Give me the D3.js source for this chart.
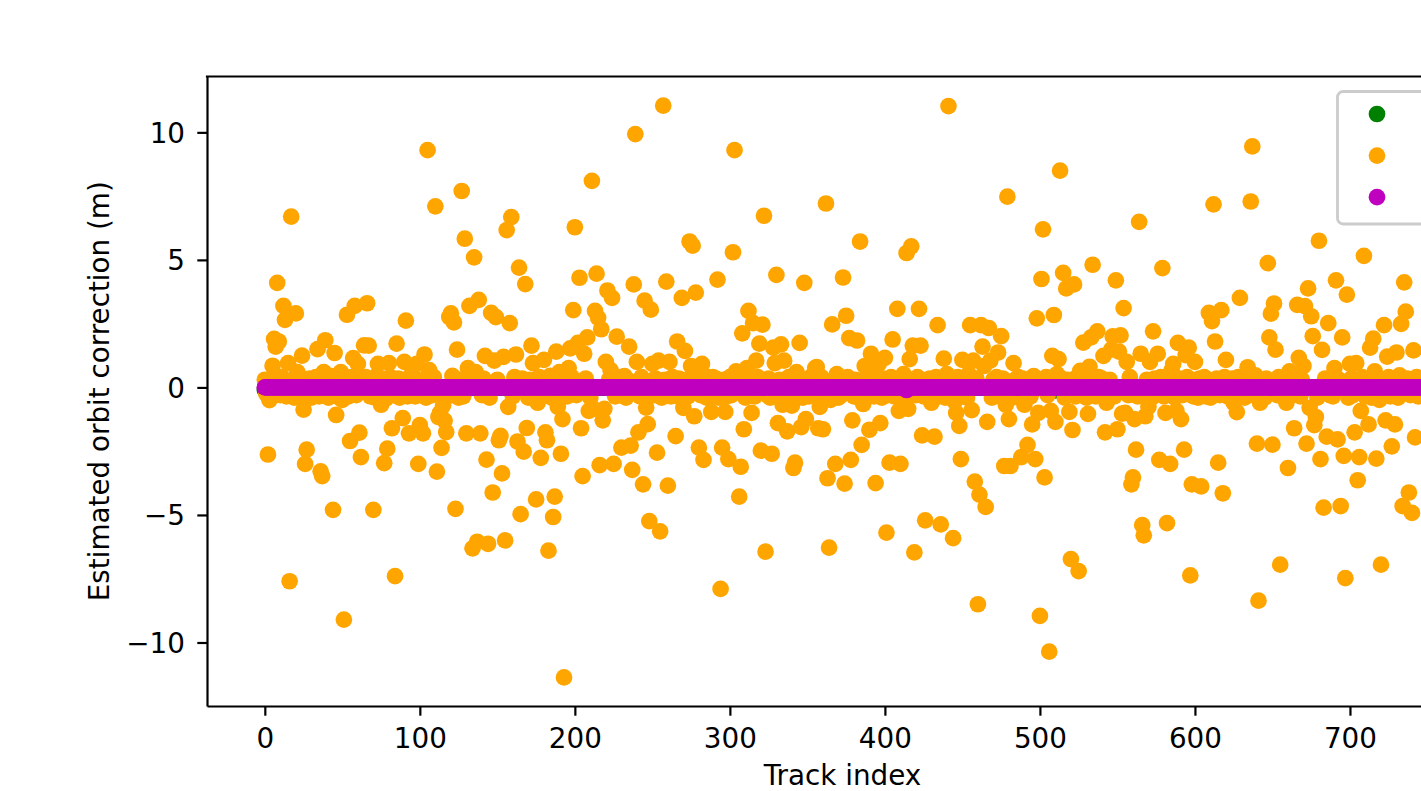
<!DOCTYPE html>
<meta charset="utf-8">

<style>
    body { margin: 0; background: #fff; }
    svg text { font-family: "DejaVu Sans", sans-serif; }
    .axis path, .axis line { fill: none; stroke: #000; stroke-width: 2.2px; }
    .axis text { font-size: 27.8px; fill: #000; }
</style>

<svg width="1421" height="791"></svg>

<script src="https://cdn.jsdelivr.net/npm/d3@7/dist/d3.min.js"></script>
<script>
    // tracks 0..746, one point per track in every series
    var trackCount = 747;

    // green and magenta sit on zero; only these tracks are visibly off it
    var greenShifts = [[0, -0.1], [243, 0.12], [296, 0.1], [510, -0.12], [559, -0.1], [702, -0.12]];
    var magentaShifts = [[414, -0.1]];

    var orangePoints = [
        [0, 0.3], [2, -2.63], [3, -0.5], [5, 0.85], [6, 1.9], [7, 1.6], [8, 4.1], [9, 1.8], [12, 3.2], [13, 2.65],
        [15, 0.95], [16, -7.6], [17, 6.7], [20, 2.9], [21, 0.6], [24, 1.25], [25, -0.87], [26, -3.0], [27, -2.44], [28, -0.36],
        [34, 1.5], [36, -3.29], [37, -3.48], [38, 0.6], [39, 1.85], [44, -4.8], [45, 1.35], [46, -1.08], [49, 0.6], [50, -0.49],
        [51, -9.1], [53, 2.85], [55, -2.1], [57, 1.15], [58, 3.2], [60, 0.92], [61, -1.77], [62, -2.73], [64, 1.65],
        [66, 3.3], [67, 1.64], [70, -4.8], [73, 0.92], [75, -0.68], [77, -2.97], [79, -2.4], [80, 0.95], [82, -1.6], [84, -7.4],
        [85, 1.72], [89, -1.2], [90, 1.0], [91, 2.62], [93, -1.8], [98, 0.92], [99, -3.0], [100, -1.48], [102, -1.8], [103, 1.29],
        [105, 9.3], [106, 0.68], [110, 7.1], [111, -3.3], [112, -1.16], [113, -1.0], [114, -2.37], [115, -0.7], [116, -1.3], [117, -1.75],
        [119, 2.76], [120, 2.9], [122, 2.55], [123, -4.76], [124, 1.48], [127, 7.7], [129, 5.83], [130, -1.8], [131, 0.76], [132, 3.2],
        [134, -6.31], [135, 5.1], [136, 0.6], [137, -6.05], [138, 3.43], [139, -1.8], [142, 1.24], [143, -2.83], [144, -6.13], [146, 2.92],
        [147, -4.12], [148, 1.05], [149, 2.76], [151, -2.07], [152, -1.9], [153, -3.37], [154, 1.2], [155, -6.0], [156, 6.17], [157, -0.76],
        [158, 2.52], [159, 6.68], [162, 1.29], [163, -2.12], [164, 4.7], [165, -4.97], [167, -2.52], [168, 4.05], [169, -1.59], [172, 1.64],
        [173, 0.95], [175, -4.39], [176, -0.6], [178, -2.76], [180, 1.08], [181, -1.76], [182, -2.07], [183, -6.4], [186, -5.08], [187, -4.28],
        [188, 1.4], [189, -0.76], [190, 0.6], [191, -2.6], [192, -1.24], [193, -11.37], [196, 0.76], [197, 1.53], [199, 3.03], [200, 6.28],
        [202, 1.75], [203, 4.3], [204, -1.6], [205, -3.48], [206, 1.32], [208, 1.96], [209, -0.92], [211, 8.1], [212, -0.84], [213, 3.0],
        [214, 4.46], [215, 2.73], [216, -3.05], [217, 2.28], [218, -1.29], [219, -0.84], [220, 1.0], [221, 3.8], [223, 0.68], [224, 3.51],
        [225, -3.0], [227, 1.99], [230, -2.36], [232, 0.44], [235, 1.6], [236, -2.28], [237, -3.23], [238, 4.04], [239, 9.93], [240, 1.0],
        [241, -1.76], [244, -3.8], [245, 3.4], [246, -0.79], [247, -1.44], [248, -5.24], [249, 3.05], [250, 0.92], [253, -2.56], [254, 1.05],
        [255, -5.64], [257, 11.05], [259, 4.15], [260, -3.85], [261, 1.0], [265, -1.91], [266, 1.8], [269, 3.51], [270, -0.8], [271, 1.43],
        [274, 5.72], [275, 0.84], [276, 5.56], [277, -1.13], [278, 3.72], [280, -2.36], [282, 0.92], [283, -2.84], [288, -0.96], [292, 4.23],
        [294, -7.9], [295, -2.36], [297, -0.96], [299, -2.81], [302, 5.3], [303, 9.3], [304, 0.63], [306, -4.28], [307, -3.11], [308, 2.12],
        [309, -1.64], [311, 0.76], [312, 3.0], [314, -1.0], [315, 2.52], [317, 1.05], [319, 1.72], [320, -2.48], [321, 2.46], [322, 6.73],
        [323, -6.44], [327, -2.6], [328, 1.56], [329, 0.95], [330, 4.41], [331, -1.4], [333, 1.69], [334, -0.68], [335, 1.05], [337, -1.72],
        [340, -0.71], [341, -3.16], [342, -2.95], [343, 0.6], [345, 1.75], [346, -1.56], [348, 4.1], [349, -1.24], [355, 0.76], [357, -1.6],
        [356, 0.8], [358, -0.76], [360, -1.64], [362, 7.21], [363, -3.56], [364, -6.28], [365, -0.49], [366, 2.47], [368, -3.0], [369, 0.52],
        [373, 4.31], [374, -3.77], [375, 2.81], [377, 1.93], [378, -2.84], [379, -1.29], [382, 1.84], [384, 5.72], [385, -2.25], [386, -0.65],
        [387, 0.84], [390, -1.66], [391, 1.32], [394, -3.75], [396, 0.92], [397, -1.4], [400, 1.16], [401, -5.69], [403, -2.95], [405, 1.88],
        [408, 3.08], [409, -0.92], [410, -3.0], [412, 0.52], [414, 5.27], [415, -0.84], [416, 1.11], [417, 5.53], [418, 1.64], [419, -6.47],
        [422, 3.08], [423, 1.64], [424, -1.88], [426, -5.21], [430, -0.6], [432, -1.93], [434, 2.44], [436, -5.37], [438, 1.13], [440, 0.52],
        [441, 11.03], [444, -5.91], [445, -0.55], [446, -1.0], [448, -1.51], [449, -2.81], [450, 1.08], [454, 0.52], [455, 2.44], [456, -0.89],
        [457, 1.05], [458, -3.69], [460, -8.5], [461, -4.2], [462, 2.44], [463, 1.6], [464, 0.84], [465, -4.68], [466, -1.35], [467, 2.33],
        [468, 1.05], [473, 1.37], [475, 2.01], [477, -3.08], [478, -0.68], [479, 7.48], [480, -1.24], [481, -3.08], [483, 0.95], [488, -2.73],
        [490, -0.68], [492, -2.25], [495, -1.45], [496, 0.44], [497, -2.81], [498, 2.71], [499, -1.0], [500, -8.96], [501, 4.25], [502, 6.2],
        [503, -3.53], [506, -10.36], [507, -0.92], [508, 1.24], [509, 2.84], [510, -1.35], [511, 0.52], [512, 1.11], [513, 8.5], [515, 4.49],
        [517, 3.88], [519, -0.96], [520, -6.73], [521, -1.67], [522, 4.04], [525, -7.2], [526, 0.65], [528, 1.76], [531, -1.04], [532, 0.81],
        [533, 1.96], [534, 4.81], [537, 2.2], [541, 1.24], [542, -1.76], [543, -0.6], [546, 1.48], [547, 2.0], [549, 4.2], [550, -1.64],
        [551, 1.4], [552, 2.04], [553, -1.03], [554, 3.11], [555, -1.0], [556, 1.0], [559, -3.8], [560, -3.53], [561, -1.24], [562, -2.44],
        [564, 6.49], [565, 1.32], [566, -5.4], [567, -5.8], [568, -1.13], [570, -0.76], [571, 1.0], [573, 2.2], [576, 1.32], [577, -2.84],
        [579, 4.68], [581, -1.0], [582, -5.32], [584, -3.0], [585, 0.68], [586, 0.92], [588, -0.92], [589, 1.75], [591, -1.24], [593, -2.44],
        [594, 1.27], [596, 1.56], [597, -7.37], [598, -3.8], [600, 1.0], [604, -3.88], [609, 2.92], [611, 2.6], [612, 7.18], [613, 1.8],
        [615, -2.95], [617, 3.03], [618, -4.15], [620, 1.08], [625, -0.6], [627, -0.97], [629, 3.51], [634, 0.79], [636, 7.29], [637, 9.45],
        [639, 0.47], [640, -2.2], [641, -8.36], [642, -0.6], [647, 4.87], [648, 1.96], [649, 2.89], [650, -2.24], [651, 3.29], [652, 1.48],
        [655, -6.95], [659, -0.6], [660, -3.16], [661, 0.63], [664, -1.6], [666, 3.24], [667, 1.16], [670, 0.84], [671, 3.19], [672, -2.2],
        [673, 3.88], [674, -0.8], [675, 2.79], [676, 2.01], [677, -1.48], [678, -1.16], [680, 5.75], [681, -2.81], [682, 1.47], [683, -4.71],
        [685, -1.93], [686, 2.52], [690, 0.76], [691, 4.2], [692, -2.04], [694, -4.65], [695, 1.96], [696, -2.68], [697, -7.48], [698, 3.64],
        [700, 0.92], [703, -1.76], [704, 0.95], [705, -3.64], [706, -2.73], [707, -0.92], [709, 5.16], [712, -1.45], [713, 1.56], [715, 1.91],
        [716, 0.63], [717, -2.79], [719, -0.49], [720, -6.95], [722, 2.44], [723, -1.29], [724, 1.21], [727, -2.31], [729, -1.45], [730, 1.37],
        [732, 0.47], [733, 2.49], [734, -4.65], [735, 4.12], [736, 2.97], [738, -4.12], [740, -4.92], [741, 1.45], [742, -1.96]
    ];

    // orange points mostly hidden behind the magenta band, only the fringe shows
    var orangeNearZero = [
        [1, -0.25], [4, 0.35], [10, -0.3], [11, 0.4], [14, -0.35], [18, 0.3], [19, -0.4], [22, 0.45], [23, -0.3], [29, 0.35],
        [30, -0.4], [31, 0.3], [32, -0.25], [33, 0.4], [35, -0.35], [40, 0.3], [41, -0.4], [42, 0.45], [43, -0.3], [47, 0.35],
        [48, -0.4], [52, 0.3], [54, -0.35], [56, 0.4], [59, -0.3], [63, 0.35], [65, 0.4], [68, -0.35], [69, 0.3], [71, -0.4],
        [72, 0.45], [74, -0.3], [76, 0.35], [78, -0.45], [81, 0.4], [83, -0.3], [86, 0.35], [87, -0.4], [88, 0.3], [92, -0.35],
        [94, 0.45], [95, -0.3], [96, 0.4], [97, -0.35], [101, 0.3], [104, -0.4], [107, 0.35], [108, -0.3], [109, 0.4], [118, -0.35],
        [121, 0.45], [125, -0.4], [126, 0.3], [128, -0.35], [133, 0.4], [140, -0.3], [141, 0.35], [145, -0.4], [150, 0.3], [160, -0.35],
        [161, 0.4], [166, 0.35], [170, -0.4], [171, 0.3], [174, -0.35], [177, 0.4], [179, -0.3], [184, 0.45], [185, -0.4], [194, 0.3],
        [195, -0.35], [198, 0.4], [201, -0.3], [207, 0.35], [210, -0.4], [222, 0.3], [226, -0.35], [228, 0.4], [229, -0.3], [231, 0.35],
        [233, -0.4], [234, 0.3], [242, -0.35], [243, 0.4], [251, -0.3], [252, 0.35], [256, -0.4], [258, 0.3], [262, -0.35], [263, 0.4],
        [264, -0.3], [267, 0.35], [268, -0.4], [272, 0.3], [273, -0.35], [279, 0.4], [281, -0.3], [284, 0.45], [285, -0.4], [286, 0.3],
        [287, -0.35], [289, 0.4], [290, -0.3], [291, 0.35], [293, -0.4], [296, 0.3], [298, -0.35], [300, 0.4], [301, -0.3], [305, 0.35],
        [310, -0.4], [313, 0.3], [316, -0.35], [318, 0.4], [324, -0.3], [325, 0.35], [326, -0.4], [332, 0.3], [336, -0.35], [338, 0.4],
        [339, -0.3], [344, 0.35], [347, -0.4], [350, 0.3], [351, -0.35], [352, 0.4], [353, -0.3], [354, 0.35], [359, 0.4], [361, -0.35],
        [367, 0.3], [370, -0.4], [371, 0.35], [372, -0.3], [376, 0.4], [380, -0.35], [381, 0.3], [383, -0.4], [388, 0.35], [389, -0.3],
        [392, 0.4], [393, -0.35], [395, 0.3], [398, -0.4], [399, 0.35], [402, -0.3], [404, 0.4], [406, -0.35], [407, 0.3], [411, -0.4],
        [413, 0.35], [420, -0.3], [421, 0.4], [425, -0.35], [427, 0.3], [428, -0.4], [429, 0.35], [431, -0.3], [433, 0.4], [435, -0.35],
        [437, 0.3], [439, -0.4], [442, 0.35], [443, -0.3], [447, 0.4], [451, -0.35], [452, 0.3], [453, -0.4], [459, 0.35], [469, -0.4],
        [470, 0.3], [471, -0.35], [472, 0.4], [474, -0.3], [476, 0.35], [482, -0.4], [484, 0.3], [485, -0.35], [486, 0.4], [487, -0.3],
        [489, 0.35], [491, -0.4], [493, 0.3], [494, -0.35], [504, 0.4], [505, -0.3], [514, 0.35], [516, -0.4], [518, 0.3], [523, -0.35],
        [524, 0.4], [527, -0.3], [529, 0.35], [530, -0.4], [535, 0.3], [536, -0.35], [538, 0.4], [539, -0.3], [540, 0.35], [544, -0.4],
        [545, 0.3], [548, -0.35], [557, -0.3], [558, 0.4], [563, -0.35], [569, 0.3], [572, -0.4], [574, 0.35], [575, -0.3], [578, 0.4],
        [580, -0.35], [583, 0.3], [587, -0.4], [590, 0.35], [592, -0.3], [595, 0.4], [599, -0.35], [601, 0.3], [602, -0.4], [603, 0.35],
        [605, -0.3], [606, 0.4], [607, -0.35], [608, 0.3], [610, -0.4], [614, 0.35], [616, -0.3], [619, 0.4], [621, -0.35], [622, 0.3],
        [623, -0.4], [624, 0.35], [626, -0.3], [628, 0.4], [630, -0.35], [631, 0.3], [632, -0.4], [633, 0.35], [635, -0.3], [638, 0.4],
        [643, -0.35], [644, 0.3], [645, -0.4], [646, 0.35], [653, -0.3], [654, 0.4], [656, -0.35], [657, 0.3], [658, -0.4], [662, 0.35],
        [663, -0.3], [665, 0.4], [668, -0.35], [669, 0.3], [679, -0.4], [684, 0.35], [687, -0.3], [688, 0.4], [689, -0.35], [693, 0.3],
        [699, -0.4], [701, 0.35], [702, -0.3], [708, 0.4], [710, -0.35], [711, 0.3], [714, -0.4], [718, 0.35], [721, -0.3], [725, 0.4],
        [726, -0.35], [728, 0.3], [731, -0.4], [737, 0.35], [739, -0.3], [743, 0.4], [744, -0.35], [745, 0.3], [746, -0.25]
    ];

    var xTicks = [0, 100, 200, 300, 400, 500, 600, 700];
    var yTicks = [-10, -5, 0, 5, 10];
    var seriesColors = ["#008000", "#ffa500", "#bf00bf"];

    (function () {
        var svg = d3.select("svg"),
            left = 207, right = 1478, top = 76.5, bottom = 706,
            r = 8.35;

        var xScale = d3.scaleLinear().domain([-37.3, 782.6]).range([left, right]),
            yScale = d3.scaleLinear().domain([-12.49, 12.19]).range([bottom, top]);

        function flatSeries(shifts) {
            var vals = new Array(trackCount).fill(0);
            shifts.forEach(function (s) { vals[s[0]] = s[1]; });
            return vals.map(function (v, i) { return [i, v]; });
        }

        var green = flatSeries(greenShifts),
            magenta = flatSeries(magentaShifts),
            orange = orangePoints.concat(orangeNearZero).sort(function (a, b) { return a[0] - b[0]; });

        svg.append("rect").attr("width", 1421).attr("height", 791).attr("fill", "#fff");

        function drawDots(data, color) {
            svg.append("g").selectAll("circle")
                .data(data)
                .enter().append("circle")
                .attr("cx", function (d) { return xScale(d[0]); })
                .attr("cy", function (d) { return yScale(d[1]); })
                .attr("r", r)
                .attr("fill", color);
        }
        drawDots(green, seriesColors[0]);
        drawDots(orange, seriesColors[1]);
        drawDots(magenta, seriesColors[2]);

        // axes
        var xAxis = d3.axisBottom(xScale).tickValues(xTicks).tickSize(9.7).tickSizeOuter(0).tickPadding(12.5),
            yAxis = d3.axisLeft(yScale).tickValues(yTicks).tickSize(9.7).tickSizeOuter(0).tickPadding(12.3);

        svg.append("g").attr("class", "axis")
            .attr("transform", "translate(0," + bottom + ")")
            .call(xAxis);
        svg.append("g").attr("class", "axis")
            .attr("transform", "translate(" + left + ",0)")
            .call(yAxis)
            .selectAll("text").attr("dy", "0.36em");

        svg.append("line").attr("x1", left - 1.1).attr("x2", right + 1.1)
            .attr("y1", top).attr("y2", top)
            .attr("stroke", "#000").attr("stroke-width", 2.2);
        svg.append("line").attr("x1", right).attr("x2", right)
            .attr("y1", top).attr("y2", bottom)
            .attr("stroke", "#000").attr("stroke-width", 2.2);

        svg.append("text")
            .attr("x", (left + right) / 2).attr("y", 785)
            .attr("text-anchor", "middle")
            .style("font-size", "27.8px")
            .text("Track index");
        svg.append("text")
            .attr("transform", "translate(109," + (top + bottom) / 2 + ") rotate(-90)")
            .attr("text-anchor", "middle")
            .style("font-size", "27.8px")
            .text("Estimated orbit correction (m)");

        // legend (labels fall outside the picture)
        var legend = svg.append("g");
        legend.append("rect")
            .attr("x", 1337.5).attr("y", 91.5)
            .attr("width", 200).attr("height", 132.5)
            .attr("rx", 5.6)
            .attr("fill", "#fff").attr("fill-opacity", 0.8)
            .attr("stroke", "#cccccc").attr("stroke-width", 2.8);
        legend.selectAll("circle")
            .data(seriesColors)
            .enter().append("circle")
            .attr("cx", 1377)
            .attr("cy", function (d, i) { return 114 + i * 41.6; })
            .attr("r", r)
            .attr("fill", function (d) { return d; });
    })();
</script>
